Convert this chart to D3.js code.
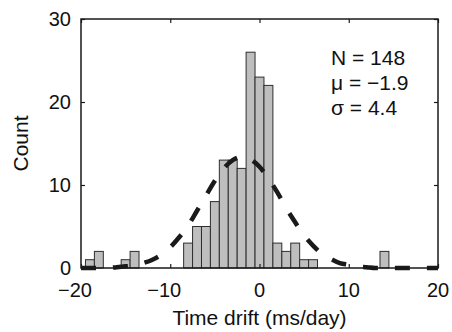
<!DOCTYPE html>
<html>
<head>
<meta charset="utf-8">
<script src="https://cdn.jsdelivr.net/npm/d3@7"></script>
<style>
  body { margin: 0; background: #fff; }
  svg { display: block; font-family: "Liberation Sans", Arial, Helvetica, sans-serif; }
</style>
</head>
<body>
<svg id="chart"></svg>
<script>
// histogram bins (centre in ms/day) and counts
const binCenters = [-19, -18, -15, -14, -8, -7, -6, -5, -4, -3, -2, -1, 0, 1, 2, 3, 4, 5, 6, 14];
const binCounts  = [  1,   2,   1,   2,  3,  5,  5,  8, 13, 13, 12, 26, 23, 22, 3, 2, 3, 1, 1, 2];

const fitX = [-20, -19, -18, -17, -16, -15, -14, -13, -12, -11, -10, -9, -8, -7, -6, -5, -4, -3, -2, -1,
              0, 1, 2, 3, 4, 5, 6, 7, 8, 9, 10, 11, 12, 13, 14, 15, 16, 17, 18, 19, 20];
const fitY = [0.0, 0.0, 0.0, 0.0, 0.1, 0.2, 0.3, 0.6, 1.0, 1.6, 2.5, 3.7, 5.1, 6.9, 8.7, 10.5, 12.0, 13.0, 13.4, 13.1,
              12.2, 10.8, 9.1, 7.2, 5.5, 3.9, 2.7, 1.7, 1.1, 0.6, 0.4, 0.2, 0.1, 0.0, 0.0, 0.0, 0.0, 0.0, 0.0, 0.0, 0.0];

const xTicks = [-20, -10, 0, 10, 20];
const yTicks = [0, 10, 20, 30];
const statLines = ["N = 148", "\u03bc = \u22121.9", "\u03c3 = 4.4"];

const width = 452, height = 332;
const margin = { top: 19, right: 14, bottom: 64, left: 81 };
const innerWidth = width - margin.left - margin.right;
const innerHeight = height - margin.top - margin.bottom;

const svg = d3.select("#chart").attr("width", width).attr("height", height);
const chart = svg.append("g").attr("transform", `translate(${margin.left}, ${margin.top})`);

// scales in page coordinates
const xscale = d3.scaleLinear().domain([-20, 20]).range([margin.left, margin.left + innerWidth]);
const yscale = d3.scaleLinear().domain([0, 30]).range([margin.top + innerHeight, margin.top]);
const xlocal = xscale.copy().range([0, innerWidth]);
const ylocal = yscale.copy().range([innerHeight, 0]);

// bars
const binWidth = 1;
chart.selectAll("rect.bar")
    .data(binCenters.map((c, i) => ({ c, n: binCounts[i] })))
    .enter().append("rect")
    .attr("class", "bar")
    .attr("x", d => xlocal(d.c - binWidth / 2))
    .attr("width", d => xlocal(d.c + binWidth / 2) - xlocal(d.c - binWidth / 2))
    .attr("y", d => ylocal(d.n))
    .attr("height", d => ylocal(0) - ylocal(d.n))
    .attr("fill", "#bebebe")
    .attr("stroke", "#2e2e2e")
    .attr("stroke-width", 1);

// fitted curve (dashed)
const line = d3.line()
    .x(d => xlocal(d[0]))
    .y(d => ylocal(d[1]))
    .curve(d3.curveMonotoneX);

chart.append("path")
    .datum(fitX.map((x, i) => [x, fitY[i]]))
    .attr("d", line)
    .attr("fill", "none")
    .attr("stroke", "#1a1a1a")
    .attr("stroke-width", 4.5)
    .attr("stroke-dasharray", "15,17");

// tick marks on all four sides, pointing inward
chart.append("g").attr("transform", `translate(0, ${innerHeight})`)
    .call(d3.axisBottom(xlocal).tickValues(xTicks).tickSizeInner(-4).tickSizeOuter(0).tickFormat(""));
chart.append("g")
    .call(d3.axisLeft(ylocal).tickValues(yTicks).tickSizeInner(-4).tickSizeOuter(0).tickFormat(""));
chart.append("g")
    .call(d3.axisTop(xlocal).tickValues(xTicks).tickSizeInner(-4).tickSizeOuter(0).tickFormat(""));
chart.append("g").attr("transform", `translate(${innerWidth}, 0)`)
    .call(d3.axisRight(ylocal).tickValues(yTicks).tickSizeInner(-4).tickSizeOuter(0).tickFormat(""));

chart.selectAll(".domain").remove();
chart.selectAll(".tick line").attr("stroke", "#1a1a1a").attr("stroke-width", 1.2);

// box
chart.append("rect")
    .attr("width", innerWidth)
    .attr("height", innerHeight)
    .attr("fill", "none")
    .attr("stroke", "#1a1a1a")
    .attr("stroke-width", 1.5);

// tick labels (digits centred on the tick, minus hangs to the left)
const fmt = d3.format("d");
svg.append("g").selectAll("text")
    .data(xTicks)
    .enter().append("text")
    .attr("x", d => xscale(d) - (d < 0 ? 6 : 0))
    .attr("y", margin.top + innerHeight + 29)
    .attr("text-anchor", "middle")
    .attr("font-size", "20px")
    .attr("fill", "#111")
    .text(fmt);

svg.append("g").selectAll("text")
    .data(yTicks)
    .enter().append("text")
    .attr("x", margin.left - 10)
    .attr("y", d => yscale(d) + 7)
    .attr("text-anchor", "end")
    .attr("font-size", "20px")
    .attr("fill", "#111")
    .text(fmt);

// stats text
svg.append("g").selectAll("text")
    .data(statLines)
    .enter().append("text")
    .attr("x", 331)
    .attr("y", (d, i) => 65 + i * 25)
    .attr("font-size", "21px")
    .attr("fill", "#111")
    .text(d => d);

// axis labels
svg.append("text")
    .attr("x", margin.left + innerWidth / 2)
    .attr("y", 325)
    .attr("text-anchor", "middle")
    .attr("font-size", "21px")
    .attr("fill", "#111")
    .text("Time drift (ms/day)");

svg.append("text")
    .attr("transform", `translate(28, ${margin.top + innerHeight / 2}) rotate(-90)`)
    .attr("text-anchor", "middle")
    .attr("font-size", "21px")
    .attr("fill", "#111")
    .text("Count");
</script>
</body>
</html>
